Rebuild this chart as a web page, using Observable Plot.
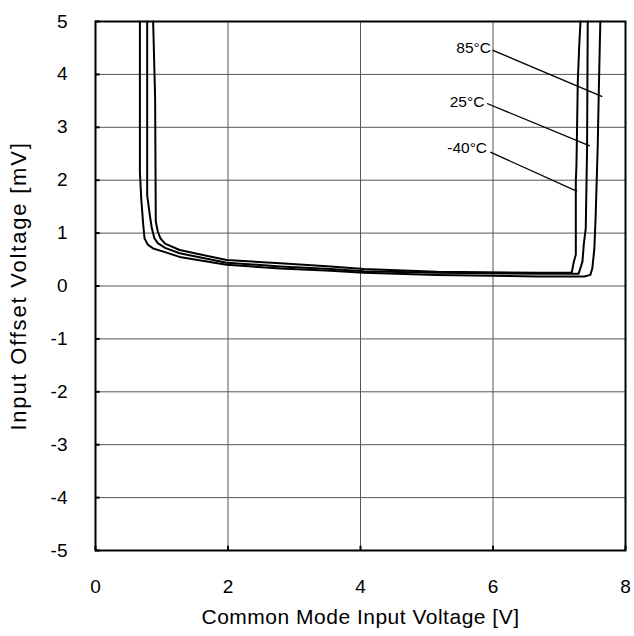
<!DOCTYPE html>
<html>
<head>
<meta charset="utf-8">
<script src="https://cdn.jsdelivr.net/npm/d3@7"></script>
<script src="https://cdn.jsdelivr.net/npm/@observablehq/plot@0.6"></script>
<style>
  html, body { margin: 0; padding: 0; background: #fff; }
  #chart { width: 634px; height: 636px; }
  #chart svg g[aria-label="x-axis tick label"] text,
  #chart svg g[aria-label="y-axis tick label"] text { font-size: 19px !important; }
  #chart svg g[aria-label="x-axis label"] text { font-size: 21px !important; letter-spacing: 0.5px; }
  #chart svg g[aria-label="y-axis label"] text { font-size: 22px !important; letter-spacing: 1.8px; }
</style>
</head>
<body>
<div id="chart"></div>
<script>
// Curve data (x: common mode input voltage [V], y: input offset voltage [mV])
const x85 = [0.67,0.67,0.69,0.72,0.74,0.79,0.87,1.05,1.27,1.98,2.79,3.55,4.05,5.15,6.68,7.38,7.47,7.50,7.53,7.55,7.58,7.60,7.62];
const y85 = [5,2.16,1.66,1.16,0.90,0.78,0.71,0.64,0.55,0.40,0.33,0.29,0.25,0.21,0.18,0.18,0.21,0.34,0.71,1.34,2.61,3.87,5];

const x25 = [0.78,0.78,0.82,0.85,0.89,0.94,1.05,1.27,1.98,2.79,3.55,4.05,5.15,6.68,7.29,7.30,7.35,7.37,7.40,7.42,7.43];
const y25 = [5,1.72,1.34,1.09,0.90,0.81,0.72,0.62,0.44,0.37,0.32,0.28,0.25,0.23,0.23,0.26,0.46,0.78,1.09,2.61,5];

const xm40 = [0.87,0.90,0.91,0.94,0.98,1.05,1.27,1.98,2.79,3.55,4.05,5.15,6.68,7.17,7.19,7.22,7.25,7.25,7.26,7.28,7.30,7.32];
const ym40 = [5,3.55,1.22,1.03,0.90,0.80,0.68,0.49,0.43,0.37,0.32,0.27,0.25,0.25,0.26,0.46,0.59,1.98,2.29,3.87,4.50,5];

const labels = ["85°C", "25°C", "-40°C"];
const labelX = [5.97, 5.87, 5.91];
const labelY = [4.5, 3.47, 2.6];
const leaderX1 = [5.99, 5.91, 5.96];
const leaderY1 = [4.46, 3.45, 2.53];
const leaderX2 = [7.65, 7.46, 7.27];
const leaderY2 = [3.58, 2.65, 1.79];

const xTicks = [0, 2, 4, 6, 8];
const yTicks = [-5, -4, -3, -2, -1, 0, 1, 2, 3, 4, 5];

const series = [
  {name: labels[0], xs: x85, ys: y85},
  {name: labels[1], xs: x25, ys: y25},
  {name: labels[2], xs: xm40, ys: ym40}
];
const pts = series.flatMap(s => s.xs.map((x, i) => ({temp: s.name, x, y: s.ys[i]})));
const lab = labels.map((t, i) => ({t, x: labelX[i], y: labelY[i], x1: leaderX1[i], y1: leaderY1[i], x2: leaderX2[i], y2: leaderY2[i]}));

const font = "'Liberation Sans', Arial, sans-serif";

const chart = Plot.plot({
  width: 634,
  height: 636,
  marginLeft: 95,
  marginRight: 9,
  marginTop: 21,
  marginBottom: 86,
  style: {fontFamily: font, fontSize: "19px", color: "#000", background: "#fff"},
  x: {domain: [0, 8], ticks: xTicks},
  y: {domain: [-5, 5], ticks: yTicks},
  marks: [
    Plot.ruleX(xTicks, {stroke: "#555", strokeWidth: 1}),
    Plot.ruleY(yTicks, {stroke: "#555", strokeWidth: 1}),
    Plot.ruleX(xTicks, {y1: -5, y2: -4.92, stroke: "#000", strokeWidth: 2}),
    Plot.ruleY(yTicks, {x1: 0, x2: 0.07, stroke: "#000", strokeWidth: 2}),
    Plot.axisX({ticks: xTicks, tickSize: 0, tickPadding: 29, fontSize: 19, tickFormat: d => String(d),
      label: "Common Mode Input Voltage [V]", labelAnchor: "center", labelArrow: "none", labelOffset: 73}),
    Plot.axisY({ticks: yTicks, tickSize: 0, tickPadding: 28, fontSize: 19, tickFormat: d => String(d),
      label: "Input Offset Voltage [mV]", labelAnchor: "center", labelArrow: "none", labelOffset: 85}),
    Plot.line(pts, {x: "x", y: "y", z: "temp", stroke: "#000", strokeWidth: 2, strokeLinejoin: "round"}),
    Plot.link(lab, {x1: "x1", y1: "y1", x2: "x2", y2: "y2", stroke: "#000", strokeWidth: 1.3}),
    Plot.text(lab, {x: "x", y: "y", text: "t", textAnchor: "end", fontSize: 15.5, fill: "#000"}),
    Plot.frame({stroke: "#000", strokeWidth: 2})
  ]
});
document.getElementById("chart").appendChild(chart);
</script>
</body>
</html>
